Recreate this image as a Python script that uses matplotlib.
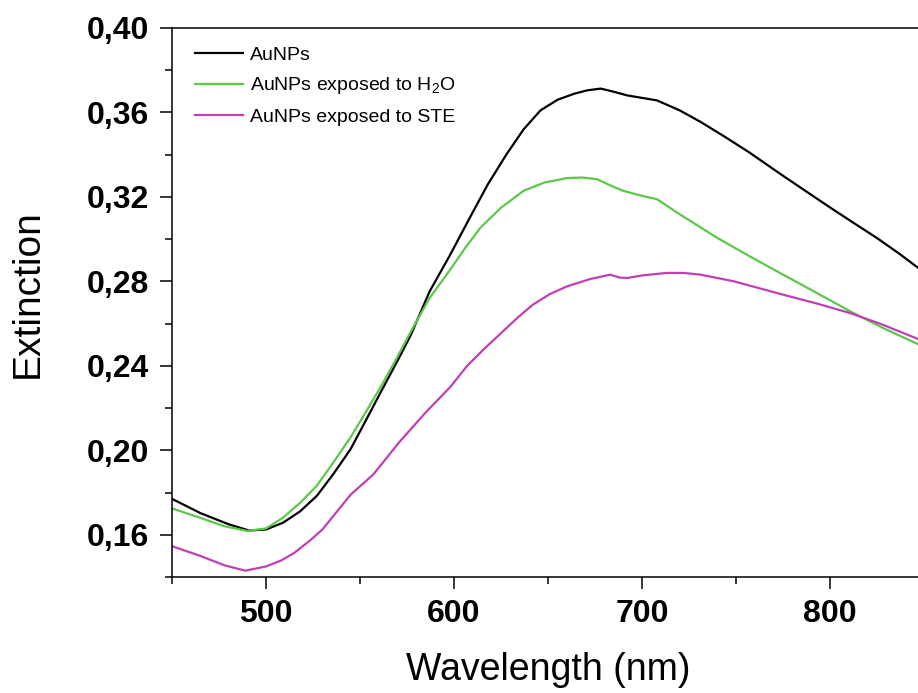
import numpy as np
import matplotlib
matplotlib.use("Agg")
import matplotlib.pyplot as plt
from matplotlib.ticker import MultipleLocator, FixedLocator

plt.rcParams['font.family'] = ['Liberation Sans', 'DejaVu Sans']
plt.rcParams['mathtext.default'] = 'regular'

# Extinction spectra (wavelength in nm)
wl_black = [450, 465, 480, 491, 500, 509, 518, 527, 536, 545, 553, 562, 570, 577, 587,
            598, 608, 618, 628, 637, 646, 655, 664, 671, 678, 685, 692, 708, 720, 731,
            744, 757, 775, 790, 800, 812, 825, 837, 847, 850]
ext_black = [0.1770, 0.1703, 0.1650, 0.1620, 0.1625, 0.1657, 0.1710, 0.1784, 0.1890, 0.2006,
             0.2140, 0.2292, 0.2425, 0.2546, 0.2752, 0.2927, 0.3095, 0.3260, 0.3403, 0.3520,
             0.3610, 0.3660, 0.3689, 0.3705, 0.3713, 0.3698, 0.3681, 0.3657, 0.3610, 0.3556,
             0.3485, 0.3411, 0.3300, 0.3210, 0.3150, 0.3080, 0.3005, 0.2930, 0.2863, 0.2845]

wl_h2o = [450, 465, 478, 490, 500, 509, 518, 527, 536, 545, 553, 562, 570, 577, 587,
          598, 606, 614, 625, 637, 648, 660, 668, 676, 683, 690, 700, 708, 720, 740,
          757, 775, 793, 811, 828, 846, 850]
ext_h2o = [0.1725, 0.1680, 0.1640, 0.1618, 0.1630, 0.1681, 0.1750, 0.1832, 0.1945, 0.2062,
           0.2180, 0.2316, 0.2445, 0.2562, 0.2721, 0.2856, 0.2959, 0.3054, 0.3149, 0.3229,
           0.3268, 0.3289, 0.3292, 0.3284, 0.3255, 0.3229, 0.3205, 0.3189, 0.3118, 0.3006,
           0.2920, 0.2832, 0.2745, 0.2657, 0.2580, 0.2506, 0.2490]

wl_ste = [450, 465, 478, 489, 500, 508, 515, 523, 530, 545, 557, 571, 585, 598, 607, 616,
          625, 634, 642, 651, 660, 672, 683, 688, 692, 700, 713, 722, 731, 749, 775, 793,
          811, 828, 846, 850]
ext_ste = [0.1546, 0.1500, 0.1455, 0.1430, 0.1450, 0.1478, 0.1514, 0.1570, 0.1625, 0.1790,
           0.1885, 0.2040, 0.2180, 0.2300, 0.2400, 0.2480, 0.2555, 0.2630, 0.2690, 0.2740,
           0.2776, 0.2810, 0.2832, 0.2818, 0.2816, 0.2828, 0.2840, 0.2840, 0.2832, 0.2800,
           0.2737, 0.2695, 0.2649, 0.2595, 0.2530, 0.2515]

labels = ['AuNPs', 'AuNPs exposed to H$_2$O', 'AuNPs exposed to STE']
colors = ['#000000', '#5cc84a', '#c040b4']

x_ticks = [500, 600, 700, 800]
y_ticks = [0.16, 0.20, 0.24, 0.28, 0.32, 0.36, 0.40]
y_ticklabels = ['0,16', '0,20', '0,24', '0,28', '0,32', '0,36', '0,40']

fig = plt.figure(figsize=(9.18, 6.93), dpi=100)
ax = fig.add_axes([0.1874, 0.1674, 0.8192, 0.7922])

for wl, ext, lab, c in zip([wl_black, wl_h2o, wl_ste], [ext_black, ext_h2o, ext_ste], labels, colors):
    ax.plot(wl, ext, color=c, lw=1.6, label=lab)

ax.set_xlim(450, 850)
ax.set_ylim(0.14, 0.40)
ax.xaxis.set_major_locator(FixedLocator(x_ticks))
ax.xaxis.set_minor_locator(MultipleLocator(50))
ax.set_yticks(y_ticks)
ax.set_yticklabels(y_ticklabels)
ax.yaxis.set_minor_locator(MultipleLocator(0.02))

ax.tick_params(which='major', direction='out', length=8.6, width=1.1, labelsize=23)
ax.tick_params(which='minor', direction='out', length=5, width=1.1)
ax.tick_params(axis='x', which='major', pad=7)
ax.tick_params(axis='y', which='major', pad=8)
ax.tick_params(top=False, right=False)
for t in ax.get_xticklabels() + ax.get_yticklabels():
    t.set_fontweight('bold')

for s in ['left', 'bottom', 'top']:
    ax.spines[s].set_linewidth(1.1)
ax.spines['right'].set_visible(False)

ax.set_xlabel('Wavelength (nm)', fontsize=27, labelpad=17)
ax.set_ylabel('Extinction', fontsize=28)
ax.yaxis.set_label_coords(-0.168, 0.517)

ax.legend(loc='upper left', bbox_to_anchor=(0.02, 0.981), borderaxespad=0,
          frameon=False, fontsize=14, handlelength=2.5, handletextpad=0.35,
          labelspacing=0.6)

fig.savefig('out.png', dpi=100)
